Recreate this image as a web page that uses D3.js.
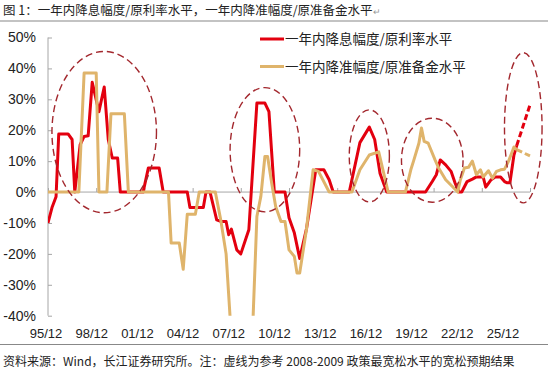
<!DOCTYPE html>
<html><head><meta charset="utf-8">
<script src="https://cdn.jsdelivr.net/npm/d3@7"></script>
<style>
html,body{margin:0;padding:0;background:#fff;}
svg{display:block;}
</style></head>
<body>
<svg id="chart" width="550" height="374"></svg>
<script>
// ---------- DATA ----------
const titleText = "图 1：一年内降息幅度/原利率水平，一年内降准幅度/原准备金水平";
const noteText = "资料来源：Wind，长江证券研究所。注：虚线为参考 2008-2009 政策最宽松水平的宽松预期结果";
const seriesNames = ["一年内降息幅度/原利率水平", "一年内降准幅度/原准备金水平"];
const yTicks = [-40, -30, -20, -10, 0, 10, 20, 30, 40, 50];
const xTickDates = ["1995-12","1998-12","2001-12","2004-12","2007-12","2010-12","2013-12","2016-12","2019-12","2022-12","2025-12"];
const xTickLabels = ["95/12","98/12","01/12","04/12","07/12","10/12","13/12","16/12","19/12","22/12","25/12"];

// rate cut magnitude / original rate level (%)
const rateDates = ["1995-12","1996-03","1996-06","1996-08","1997-03","1997-06","1997-08","1997-12","1998-03","1998-06","1998-09","1999-02","1999-06","1999-09","1999-12","2000-04","2000-06","2001-11","2002-03","2002-11","2003-02","2004-08","2004-10","2005-08","2005-10","2006-01","2006-06","2006-09","2007-01","2007-03","2007-05","2007-09","2007-12","2008-04","2008-06","2008-12","2009-06","2009-09","2010-01","2010-09","2010-12","2011-04","2011-08","2012-01","2012-08","2013-02","2013-06","2013-09","2014-09","2015-05","2015-12","2016-04","2016-08","2017-01","2019-06","2019-11","2020-02","2020-05","2020-09","2021-01","2021-04","2021-07","2021-09","2022-01","2022-05","2022-08","2023-01","2023-03","2023-07","2023-10","2024-02","2024-05","2024-07","2024-09","2024-12","2025-02"];
const rateCut = [-10,-5,-1.5,18.8,18.8,17,0,15.3,18,18.2,35.5,26,34,17,11,11,0,0,7.8,7.8,0,0,-5,-5,0,0,-9,-9.5,-9.5,-13.8,-12,-18.7,-20,-14.8,-12.2,28.8,28.8,26,0,0,-8.3,-13.2,-21.5,-12,7.2,7.2,4,0,0,16,21,17,6,0,0,3.4,5.6,10.4,8.8,6.7,3,0,0,3.4,4.2,4.9,4.9,1.6,4,4.9,4.9,3.4,3,3,12,15];
const rateProjDates = ["2025-02","2025-12"];
const rateProj = [15, 28.2];

// RRR cut magnitude / original reserve requirement level (%)
const rrrDates = ["1995-12","1997-11","1998-03","1998-12","1999-02","1999-08","1999-11","2000-09","2000-12","2003-06","2003-08","2004-02","2004-05","2004-08","2005-02","2005-05","2006-05","2006-09","2007-01","2007-06","2008-08","2008-12","2009-03","2009-06","2009-08","2009-11","2010-02","2010-06","2010-09","2010-12","2011-04","2011-06","2011-08","2012-01","2012-06","2012-10","2013-06","2014-11","2015-05","2015-12","2016-07","2016-11","2017-02","2018-03","2018-07","2018-09","2019-01","2019-03","2019-05","2019-08","2020-01","2020-04","2020-09","2021-02","2021-06","2021-08","2021-11","2022-02","2022-05","2022-08","2022-11","2023-01","2023-05","2023-08","2023-11","2024-02","2024-05","2024-08","2024-12","2025-02"];
const rrrCut = [0,0,38.5,38.5,0,0,25.3,25.3,0,0,-16.5,-16.5,-25,-7.2,-7.2,0,0,-9,-20,-54,-54,-7.9,-1.4,11.5,11.5,3,-4.7,-9.5,-9.5,-18.7,-20.8,-26.2,-26.2,-12.2,7.2,6.7,0,0,7.2,12,13,5.6,0,0,7.2,10,15.8,20.7,16.4,15.8,10.5,7.6,4,1.8,0,4,7.8,8,10,5.6,7.2,4.9,6.9,4.5,6.7,7.2,7.4,10,14.6,13.7];
const rrrProjDates = ["2025-02","2025-12"];
const rrrProj = [13.7, 11.7];

// highlighted easing episodes: centre month, half-width (months), centre value, half-height (%)
const circleCentres = ["1999-06","2009-06","2015-12","2019-11","2025-07"];
const circleHalfMonths = [39, 26, 15, 23, 14];
const circleValues = [19.4, 13.7, 11.7, 10.3, 20.8];
const circleHalfValues = [26.1, 20.1, 14.9, 13.6, 24.3];

// ---------- CHART ----------
const parse = d3.timeParse("%Y-%m");
const svg = d3.select("#chart");
const M = {left: 48, right: 530, top: 37.5, bottom: 315.7};
const red = "#e3000f", gold = "#dfb46b", circ = "#a3282e";
const cjk = "'Noto Sans CJK SC','Noto Sans',sans-serif";
const latin = "'Liberation Sans',Arial,sans-serif";

const x = d3.scaleTime().domain([parse("1995-12"), parse("2025-12")]).range([M.left, M.right]);
const y = d3.scaleLinear().domain([-40, 50]).range([M.bottom, M.top]);

// title
svg.append("text").attr("x", 3).attr("y", 15).attr("font-family", cjk).attr("font-size", 12.5)
  .attr("fill", "#222").text(titleText)
  .append("tspan").attr("fill", "#999").attr("font-size", 9).text("↵");
svg.append("line").attr("x1", 0).attr("x2", 548).attr("y1", 21).attr("y2", 21)
  .attr("stroke", "#888").attr("stroke-width", 1.2);

// y axis
const yAxis = d3.axisLeft(y).tickValues(yTicks).tickSize(-4).tickPadding(12).tickFormat(d => d + "%");
const gy = svg.append("g").attr("transform", `translate(${M.left},0)`).call(yAxis);
gy.select(".domain").attr("stroke", "#a6a6a6").attr("d", `M0,${M.top}V${M.bottom}`);
gy.selectAll(".tick line").attr("stroke", "#a6a6a6");
gy.selectAll("text").attr("font-family", latin).attr("font-size", 14).attr("fill", "#222");

// x axis at zero
const xAxis = d3.axisBottom(x).tickValues(xTickDates.map(parse)).tickSize(-4).tickFormat("");
const gx = svg.append("g").attr("transform", `translate(0,${y(0)})`).call(xAxis);
gx.select(".domain").attr("stroke", "#a6a6a6").attr("d", `M${M.left},0H${M.right}`);
gx.selectAll(".tick line").attr("stroke", "#a6a6a6");

// x tick labels (category-style placement below plot)
const xl = d3.scalePoint().domain(xTickLabels).range([46, 503]);
svg.append("g").selectAll("text").data(xTickLabels).join("text")
  .attr("x", d => xl(d)).attr("y", 338).attr("text-anchor", "middle")
  .attr("font-family", latin).attr("font-size", 13).attr("fill", "#222").text(d => d);

// clip
svg.append("clipPath").attr("id", "plot").append("rect")
  .attr("x", M.left).attr("y", M.top - 5).attr("width", M.right - M.left + 10).attr("height", M.bottom - M.top + 5);

const line = d3.line().x(d => x(d[0])).y(d => y(d[1]));
const pairs = (ds, vs) => ds.map((d, i) => [parse(d), vs[i]]);
const g = svg.append("g").attr("clip-path", "url(#plot)");

g.append("path").datum(pairs(rateDates, rateCut)).attr("d", line)
  .attr("fill", "none").attr("stroke", red).attr("stroke-width", 3).attr("stroke-linejoin", "round");
g.append("path").datum(pairs(rateProjDates, rateProj)).attr("d", line)
  .attr("fill", "none").attr("stroke", red).attr("stroke-width", 3).attr("stroke-dasharray", "6,3");
g.append("path").datum(pairs(rrrDates, rrrCut)).attr("d", line)
  .attr("fill", "none").attr("stroke", gold).attr("stroke-width", 3).attr("stroke-linejoin", "round");
g.append("path").datum(pairs(rrrProjDates, rrrProj)).attr("d", line)
  .attr("fill", "none").attr("stroke", gold).attr("stroke-width", 3).attr("stroke-dasharray", "6,3");

// ellipses
svg.append("g").selectAll("ellipse").data(circleCentres).join("ellipse")
  .attr("cx", d => x(parse(d)))
  .attr("rx", (d, i) => x(d3.timeMonth.offset(parse(d), circleHalfMonths[i])) - x(parse(d)))
  .attr("cy", (d, i) => y(circleValues[i]))
  .attr("ry", (d, i) => y(0) - y(circleHalfValues[i]))
  .attr("fill", "none").attr("stroke", circ).attr("stroke-width", 1.4).attr("stroke-dasharray", "7,4");

// legend
const lg = svg.append("g");
[red, gold].forEach((c, i) => {
  const yy = 39 + i * 27.5;
  lg.append("line").attr("x1", 260).attr("x2", 284).attr("y1", yy).attr("y2", yy)
    .attr("stroke", c).attr("stroke-width", 3);
  lg.append("text").attr("x", 285).attr("y", yy + 5).attr("font-family", cjk).attr("font-size", 13.5)
    .attr("fill", "#222").text(seriesNames[i]);
});

// footer
svg.append("line").attr("x1", 0).attr("x2", 548).attr("y1", 344.5).attr("y2", 344.5)
  .attr("stroke", "#888").attr("stroke-width", 1.2);
svg.append("text").attr("x", 3).attr("y", 366).attr("font-family", cjk).attr("font-size", 12)
  .attr("fill", "#222").text(noteText);
</script>
</body></html>
